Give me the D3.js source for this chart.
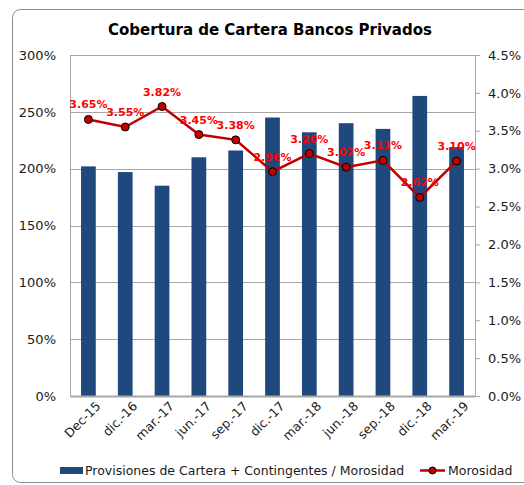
<!DOCTYPE html>
<html>
<head>
<meta charset="utf-8">
<script src="https://cdn.jsdelivr.net/npm/d3@7"></script>
<style>
  body { margin: 0; background: #fff; }
  svg { font-family: "DejaVu Sans", Verdana, sans-serif; }
</style>
</head>
<body>
<svg id="chart" width="524" height="485"></svg>
<script>
// data
const categories = ["Dec-15", "dic.-16", "mar.-17", "jun.-17", "sep.-17", "dic.-17", "mar.-18", "jun.-18", "sep.-18", "dic.-18", "mar.-19"];
const cobertura = [202, 197, 185, 210, 216, 245, 232, 240, 235, 264, 219];
const morosidad = [3.65, 3.55, 3.82, 3.45, 3.38, 2.96, 3.20, 3.02, 3.11, 2.62, 3.10];
const leftTicks = [0, 50, 100, 150, 200, 250, 300];
const rightTicks = [0, 0.5, 1, 1.5, 2, 2.5, 3, 3.5, 4, 4.5];
const barLabel = "Provisiones de Cartera + Contingentes / Morosidad";
const lineLabel = "Morosidad";

const margin = {top: 55, right: 49, bottom: 89, left: 70};
const width = 524, height = 485;
const innerW = width - margin.left - margin.right;
const innerH = height - margin.top - margin.bottom;

const svg = d3.select("#chart");

// outer chart border (rounded, runs off the right edge)
svg.append("rect")
    .attr("x", 12.5).attr("y", 9.5)
    .attr("width", 530).attr("height", 473)
    .attr("rx", 8)
    .attr("fill", "none")
    .attr("stroke", "#8c8c8c");

svg.append("text")
    .attr("x", 270).attr("y", 35)
    .attr("text-anchor", "middle")
    .attr("font-weight", "bold")
    .attr("font-size", "15px")
    .attr("fill", "#000")
    .text("Cobertura de Cartera Bancos Privados");

const x = d3.scaleBand().domain(categories).range([0, innerW]).paddingInner(0.6).paddingOuter(0.3);
const yL = d3.scaleLinear().domain([0, 300]).range([innerH, 0]);
const yR = d3.scaleLinear().domain([0, 4.5]).range([innerH, 0]);

const g = svg.append("g").attr("transform", `translate(${margin.left},${margin.top})`);

// gridlines (incl. top border of plot)
g.append("g")
    .selectAll("line")
    .data(leftTicks.filter(d => d > 0))
    .join("line")
    .attr("x1", 0).attr("x2", innerW)
    .attr("y1", d => Math.round(yL(d)) + 0.5).attr("y2", d => Math.round(yL(d)) + 0.5)
    .attr("stroke", "#a6a6a6");

// bars
g.selectAll(".bar")
    .data(categories)
    .join("rect")
    .attr("class", "bar")
    .attr("x", d => x(d))
    .attr("width", x.bandwidth())
    .attr("y", (d, i) => yL(cobertura[i]))
    .attr("height", (d, i) => innerH - yL(cobertura[i]))
    .attr("fill", "#1f497d");

// left axis
const leftAxis = g.append("g")
    .call(d3.axisLeft(yL).tickValues(leftTicks).tickFormat(d => d + "%").tickSize(0).tickPadding(14));
leftAxis.select(".domain").attr("stroke", "#a6a6a6");
leftAxis.selectAll("text").attr("font-size", "13px").attr("fill", "#1a1a1a").attr("font-family", "DejaVu Sans");

// right axis
const rightAxis = g.append("g")
    .attr("transform", `translate(${innerW},0)`)
    .call(d3.axisRight(yR).tickValues(rightTicks).tickSize(5).tickPadding(8));
rightAxis.selectAll("text").text(d => d.toFixed(1) + "%");
rightAxis.selectAll("line, .domain").attr("stroke", "#a6a6a6");
rightAxis.selectAll("text").attr("font-size", "13px").attr("fill", "#1a1a1a").attr("font-family", "DejaVu Sans");

// bottom axis
const bottomAxis = g.append("g")
    .attr("transform", `translate(0,${innerH})`)
    .call(d3.axisBottom(x).tickSize(0).tickPadding(6));
bottomAxis.select(".domain").attr("stroke", "#a6a6a6").attr("stroke-width", 2);
bottomAxis.selectAll("text")
    .attr("font-size", "12.5px")
    .attr("fill", "#1a1a1a")
    .attr("font-family", "DejaVu Sans")
    .attr("text-anchor", "end")
    .attr("dy", "0.3em")
    .attr("transform", "translate(6,4) rotate(-45)");

// morosidad line
const cx = d => x(d) + x.bandwidth() / 2;
const line = d3.line().x((d, i) => cx(categories[i])).y(d => yR(d));

g.append("path")
    .datum(morosidad)
    .attr("d", line)
    .attr("fill", "none")
    .attr("stroke", "#c00000")
    .attr("stroke-width", 2.5);

g.selectAll(".dot")
    .data(morosidad)
    .join("circle")
    .attr("class", "dot")
    .attr("cx", (d, i) => cx(categories[i]))
    .attr("cy", d => yR(d))
    .attr("r", 4)
    .attr("fill", "#c00000")
    .attr("stroke", "#000")
    .attr("stroke-width", 1);

g.selectAll(".lbl")
    .data(morosidad)
    .join("text")
    .attr("class", "lbl")
    .attr("x", (d, i) => cx(categories[i]))
    .attr("y", d => yR(d) - 11)
    .attr("text-anchor", "middle")
    .attr("font-size", "11px")
    .attr("font-weight", "bold")
    .attr("fill", "#ff0000")
    .text(d => d.toFixed(2) + "%");

// legend
const leg = svg.append("g").attr("transform", "translate(0,470)");
leg.append("rect").attr("x", 60).attr("y", -3).attr("width", 23).attr("height", 7).attr("fill", "#1f497d");
leg.append("text").attr("x", 85).attr("y", 5).attr("font-size", "12.5px").attr("fill", "#1a1a1a").text(barLabel);
leg.append("line").attr("x1", 420).attr("x2", 445).attr("y1", 0.5).attr("y2", 0.5).attr("stroke", "#c00000").attr("stroke-width", 2.5);
leg.append("circle").attr("cx", 432.5).attr("cy", 0.5).attr("r", 3.5).attr("fill", "#c00000").attr("stroke", "#000");
leg.append("text").attr("x", 448).attr("y", 5).attr("font-size", "12.5px").attr("fill", "#1a1a1a").text(lineLabel);
</script>
</body>
</html>
